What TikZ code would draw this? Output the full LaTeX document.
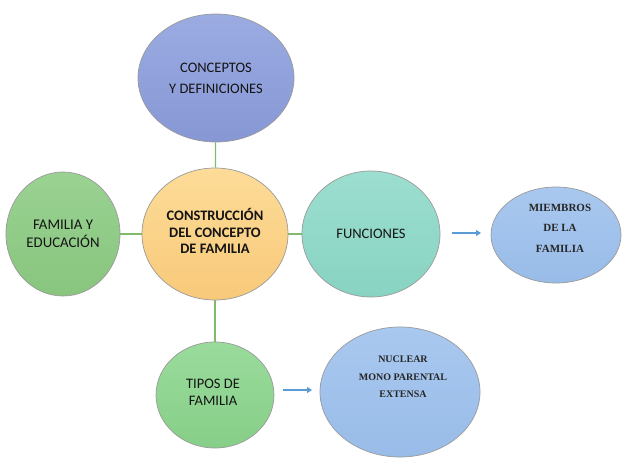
\documentclass[tikz,border=0pt]{standalone}
\usepackage{fontspec}
\setmainfont{Carlito}
\newfontfamily\serifnote{Liberation Serif}
\usetikzlibrary{shapes.geometric,arrows.meta}

\definecolor{linkgreen}{HTML}{82BA6C}
\definecolor{arrowblue}{HTML}{5B9BD5}
\definecolor{rimgray}{HTML}{9A9A9A}
\definecolor{orangeTop}{HTML}{FDDC98}
\definecolor{orangeBot}{HTML}{F8C97A}
\definecolor{violetTop}{HTML}{9BABE2}
\definecolor{violetBot}{HTML}{8797D5}
\definecolor{leafTop}{HTML}{9AD292}
\definecolor{leafBot}{HTML}{88C57E}
\definecolor{tealTop}{HTML}{9CDED0}
\definecolor{tealBot}{HTML}{88D3C2}
\definecolor{mintTop}{HTML}{9ADB9C}
\definecolor{mintBot}{HTML}{86CF88}
\definecolor{skyTop}{HTML}{A9C8EF}
\definecolor{skyBot}{HTML}{98BCE8}

\tikzset{
  blob/.style={ellipse, draw=rimgray, line width=0.7pt, inner sep=0pt,
    align=center, text=black!92},
  sizeto/.style 2 args={minimum width=#1pt, minimum height=#2pt},
  shade2/.style 2 args={top color=#1, bottom color=#2},
  link/.style={draw=linkgreen, line width=1.2pt},
  flow/.style={draw=arrowblue, line width=1.1pt, -{Triangle[length=5pt,width=6pt]}},
}

\begin{document}
\begin{tikzpicture}[x=1pt,y=-1pt]
\useasboundingbox[fill=white] (0,0) rectangle (641,469);

% central idea
\node[blob, sizeto={146}{132}, shade2={orangeTop}{orangeBot}] (centre) at (215,234) {};
\node[align=center, font=\bfseries\fontsize{14.5}{16.8}\selectfont, text=black!92]
  (centretxt) at (215,231) {CONSTRUCCIÓN\\DEL CONCEPTO\\DE FAMILIA};

% surrounding topics
\node[blob, sizeto={156}{128}, shade2={violetTop}{violetBot},
      font=\fontsize{14.5}{21}\selectfont]
  (concepts) at (216,78) {CONCEPTOS\\ Y DEFINICIONES};
\node[blob, sizeto={114}{124}, shade2={leafTop}{leafBot},
      font=\fontsize{14.8}{18}\selectfont]
  (educ) at (63,234) {FAMILIA Y\\EDUCACIÓN};
\node[blob, sizeto={138}{126}, shade2={tealTop}{tealBot},
      font=\fontsize{14.5}{19}\selectfont]
  (func) at (371,234) {FUNCIONES};
\node[blob, sizeto={118}{106}, shade2={mintTop}{mintBot}] (types) at (215,395) {};
\node[align=center, font=\fontsize{14.5}{17}\selectfont, text=black!92]
  (typestxt) at (213,392) {TIPOS DE\\FAMILIA};

% detail bubbles
\node[blob, sizeto={130}{96}, shade2={skyTop}{skyBot}] (members) at (556,235) {};
\node[align=center, font=\serifnote\bfseries\fontsize{11}{20.5}\selectfont, text=black!85]
  (memberstxt) at (560,228) {MIEMBROS\\DE LA\\FAMILIA};
\node[blob, sizeto={160}{130}, shade2={skyTop}{skyBot}] (kinds) at (400,392) {};
\node[align=center, font=\serifnote\bfseries\fontsize{10}{17.5}\selectfont, text=black!85]
  (kindstxt) at (403,377) {NUCLEAR\\MONO PARENTAL\\EXTENSA};

% links from the central idea
\draw[link] (centre) -- (concepts);
\draw[link] (centre) -- (educ);
\draw[link] (centre) -- (func);
\draw[link] (centre) -- (types);

% arrows towards the detail bubbles
\coordinate (f1) at (452,233);
\coordinate (f2) at (481,233);
\draw[flow] (f1) -- (f2);
\coordinate (t1) at (283,390);
\coordinate (t2) at (312,390);
\draw[flow] (t1) -- (t2);
\end{tikzpicture}
\end{document}
